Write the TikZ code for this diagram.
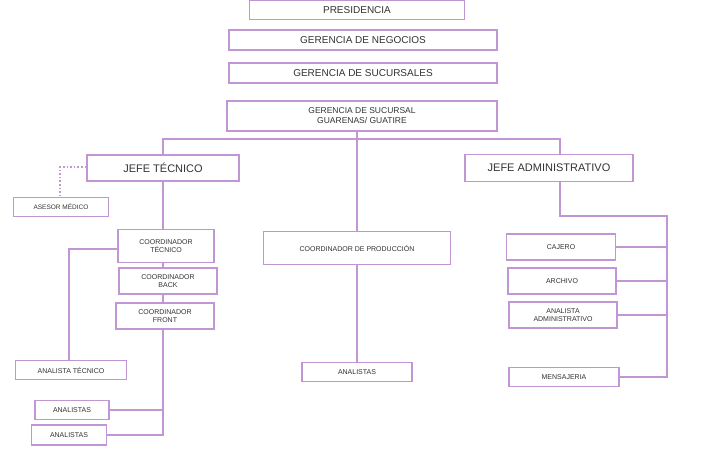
\documentclass[tikz,border=0pt]{standalone}
\usepackage{fontspec}
\setmainfont{Liberation Sans}
\definecolor{lila}{RGB}{192,150,212}
\tikzset{
  caja/.style={draw=lila, line width=1.6pt, fill=white, align=center, inner sep=1pt, font=\fontsize{10}{11}\selectfont, text=black!80},
  chica/.style={caja, font=\fontsize{7}{8.5}\selectfont},
  linea/.style={draw=lila, line width=1.6pt}
}
\begin{document}
\begin{tikzpicture}[x=1pt,y=-1pt]
\useasboundingbox (0,0) rectangle (720,448);

% niveles superiores
\node[caja, minimum width=215pt, minimum height=19pt] (pres) at (357,10) {PRESIDENCIA};
\node[caja, minimum width=268pt, minimum height=20pt] (gneg) at (363,40) {GERENCIA DE NEGOCIOS};
\node[caja, minimum width=268pt, minimum height=20pt] (gsucs) at (363,73) {GERENCIA DE SUCURSALES};
\node[caja, minimum width=270pt, minimum height=30pt, font=\fontsize{8.5}{10}\selectfont] (gsuc) at (362,116) {GERENCIA DE SUCURSAL\\GUARENAS/ GUATIRE};

% jefes
\node[caja, minimum width=152pt, minimum height=26pt, font=\fontsize{11}{12}\selectfont] (jtec) at (163,168) {JEFE TÉCNICO};
\node[caja, minimum width=168pt, minimum height=27pt, font=\fontsize{11}{12}\selectfont] (jadm) at (549,168) {JEFE ADMINISTRATIVO};
\coordinate (bus) at (357,139);

% rama tecnica
\node[chica, minimum width=95pt, minimum height=19pt, font=\fontsize{6.5}{8}\selectfont] (asesor) at (61,207) {ASESOR MÉDICO};
\node[chica, minimum width=96pt, minimum height=33pt] (ctec) at (166,246) {COORDINADOR\\TÉCNICO};
\node[chica, minimum width=98pt, minimum height=26pt] (cback) at (168,281) {COORDINADOR\\BACK};
\node[chica, minimum width=98pt, minimum height=26pt] (cfront) at (165,316) {COORDINADOR\\FRONT};
\node[chica, minimum width=111pt, minimum height=19pt] (atec) at (71,370) {ANALISTA TÉCNICO};
\node[chica, minimum width=74pt, minimum height=19pt] (an1) at (72,410) {ANALISTAS};
\node[chica, minimum width=75pt, minimum height=20pt] (an2) at (69,435) {ANALISTAS};

% rama produccion
\node[chica, minimum width=187pt, minimum height=33pt] (cprod) at (357,248) {COORDINADOR DE PRODUCCIÓN};
\node[chica, minimum width=110pt, minimum height=19pt] (anprod) at (357,372) {ANALISTAS};

% rama administrativa
\node[chica, minimum width=109pt, minimum height=26pt] (caj) at (561,247) {CAJERO};
\node[chica, minimum width=108pt, minimum height=26pt] (arch) at (562,281) {ARCHIVO};
\node[chica, minimum width=108pt, minimum height=26pt] (aadm) at (563,315) {ANALISTA\\ADMINISTRATIVO};
\node[chica, minimum width=110pt, minimum height=19pt] (mens) at (564,377) {MENSAJERIA};
\coordinate (radm) at (667,216);

% conectores
\draw[linea] (gsuc.south -| bus) -- (cprod.north);
\draw[linea] (cprod.south) -- (anprod.north);
\draw[linea] (jtec.north) |- (bus) -| ([xshift=11pt]jadm.north);
\draw[linea] (jtec.south) -- (ctec.north -| jtec.south);
\draw[linea] (ctec.south -| 163,0) -- (cback.north -| 163,0);
\draw[linea] (cback.south -| 163,0) -- (cfront.north -| 163,0);
\draw[linea, dotted, line width=2pt] ([yshift=1pt]jtec.west) -| (asesor.north -| 60,0);
\draw[linea] ([yshift=-3pt]ctec.west) -| (atec.north -| 69,0);
\draw[linea] ([xshift=-2pt]cfront.south) |- (an2.east);
\draw[linea] (an1.east) -- (an1.east -| 163,0);
\draw[linea] ([xshift=11pt]jadm.south) |- (radm) |- (mens.east);
\draw[linea] (caj.east) -- (caj.east -| radm);
\draw[linea] (arch.east) -- (arch.east -| radm);
\draw[linea] (aadm.east) -- (aadm.east -| radm);
\end{tikzpicture}
\end{document}
